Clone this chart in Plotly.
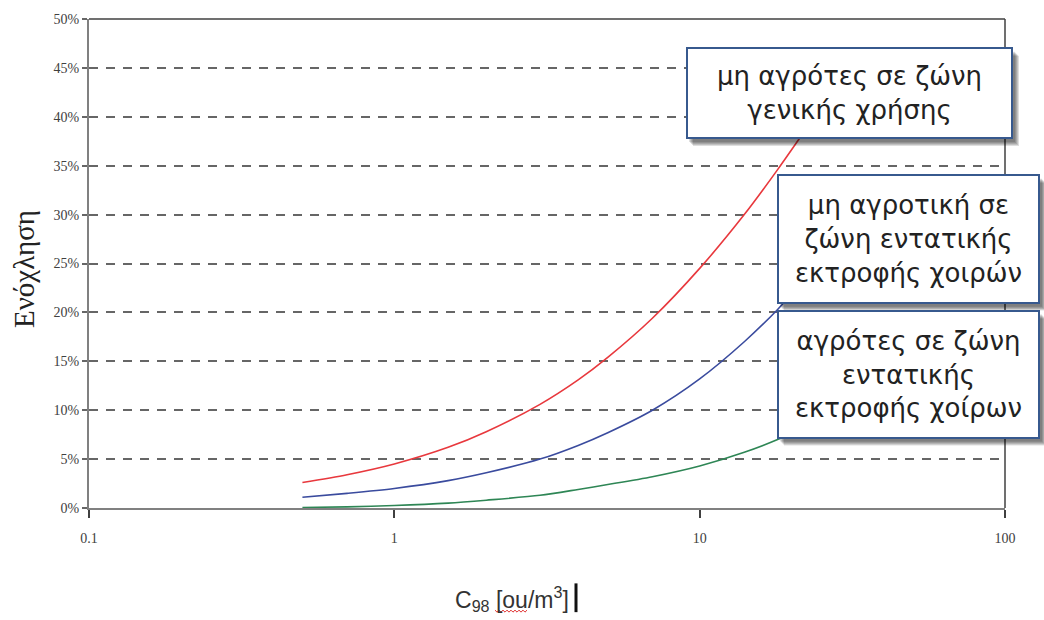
import plotly.graph_objects as go

# Odour concentration C98 [ou/m3] and annoyance share [%] for three receptor groups
conc = [0.5, 0.7, 1, 1.5, 2, 3, 4, 5, 7, 10, 14, 18, 25]
annoy_general = [2.6, 3.4, 4.5, 6.2, 7.8, 10.6, 13.1, 15.4, 19.4, 24.5, 30.0, 34.6, 41.0]
annoy_nonfarm_pig = [1.1, 1.5, 2.0, 2.8, 3.6, 5.0, 6.4, 7.7, 10.0, 13.2, 17.0, 20.3, 25.3]
annoy_farm_pig = [0.05, 0.12, 0.25, 0.5, 0.8, 1.3, 1.9, 2.4, 3.2, 4.3, 5.7, 7.0, 9.1]

series_names = [
    "μη αγρότες σε ζώνη<br>γενικής χρήσης",
    "μη αγροτική σε<br>ζώνη εντατικής<br>εκτροφής χοιρών",
    "αγρότες σε ζώνη<br>εντατικής<br>εκτροφής χοίρων",
]
series_values = [annoy_general, annoy_nonfarm_pig, annoy_farm_pig]
series_colors = ["#E8383D", "#3A4B9E", "#2E8655"]

x_tickvals = [0.1, 1, 10, 100]
x_ticktext = ["0.1", "1", "10", "100"]
y_tickvals = list(range(0, 55, 5))
y_ticktext = [f"{v}%" for v in y_tickvals]

W, H = 1044, 620
L, R, T, B = 89, 39, 15, 112
PW, PH = W - L - R, H - T - B


def px(x):
    return (x - L) / PW


def py(y):
    return (H - B - y) / PH


fig = go.Figure()
for name, vals, col in zip(series_names, series_values, series_colors):
    fig.add_trace(go.Scatter(
        x=conc, y=vals, mode="lines", name=name.replace("<br>", " "),
        line=dict(color=col, width=1.6, shape="spline", smoothing=0.8),
        showlegend=False, hoverinfo="skip",
    ))

shapes = []
# frame: top and right edges
shapes.append(dict(type="line", xref="paper", yref="paper", x0=0, x1=1, y0=1, y1=1,
                   line=dict(color="#404040", width=1.5), layer="above"))
shapes.append(dict(type="line", xref="paper", yref="paper", x0=1, x1=1, y0=0, y1=1,
                   line=dict(color="#404040", width=1.5), layer="above"))

# label boxes (pixel extents) with soft drop shadows
boxes = [
    (686, 44, 1013, 136),
    (777, 172, 1040, 302),
    (777, 309, 1040, 438),
]
for (x0, y0, x1, y1) in boxes:
    for i in range(5):
        shapes.append(dict(
            type="rect", xref="paper", yref="paper",
            x0=px(x0 + 3 + i), x1=px(x1 + 2 + i),
            y0=py(y0 + 4 + i), y1=py(y1 + 3 + i),
            fillcolor="rgba(0,0,0,0.13)", line=dict(width=0), layer="above",
        ))

# text cursor and spell-check squiggle next to the axis title
shapes.append(dict(type="line", xref="paper", yref="paper",
                   x0=px(576), x1=px(576), y0=py(584), y1=py(613),
                   line=dict(color="#111111", width=3)))
zig = "M " + " L ".join(
    f"{px(495 + 2 * k):.5f},{py(611 if k % 2 == 0 else 613):.5f}" for k in range(17)
)
shapes.append(dict(type="path", xref="paper", yref="paper", path=zig,
                   line=dict(color="#E03030", width=1)))

annotations = []
box_font = dict(family="DejaVu Sans, Verdana, sans-serif", size=26, color="#222222")
for text, (x0, y0, x1, y1) in zip(series_names, boxes):
    annotations.append(dict(
        text=text, xref="paper", yref="paper",
        x=px((x0 + x1) / 2), y=py((y0 + y1) / 2),
        xanchor="center", yanchor="middle", showarrow=False,
        width=x1 - x0 - 4, height=y1 - y0 - 4,
        bgcolor="white", bordercolor="#37598E", borderwidth=2, borderpad=0,
        font=box_font, align="center", valign="middle",
    ))

annotations.append(dict(
    text="Ενόχληση", xref="paper", yref="paper", x=px(24), y=py(267),
    xanchor="center", yanchor="middle", textangle=-90, showarrow=False,
    font=dict(family="Liberation Serif, Times New Roman, serif", size=29, color="#222222"),
))
annotations.append(dict(
    text="C<sub>98</sub> [ou/m<sup>3</sup>]", xref="paper", yref="paper",
    x=px(512), y=py(600), xanchor="center", yanchor="middle", showarrow=False,
    font=dict(family="Liberation Sans, Arial, sans-serif", size=23, color="#333333"),
))

tick_font = dict(family="Liberation Serif, Times New Roman, serif", size=14, color="#404040")

fig.update_layout(
    width=W, height=H,
    margin=dict(l=L, r=R, t=T, b=B, pad=0),
    paper_bgcolor="white", plot_bgcolor="white",
    shapes=shapes, annotations=annotations,
    xaxis=dict(
        type="log", range=[-1, 2], tickvals=x_tickvals, ticktext=x_ticktext,
        showgrid=False, zeroline=False,
        showline=True, linecolor="#808080", linewidth=2,
        ticks="outside", ticklen=8, tickcolor="#404040", tickwidth=1.5,
        ticklabelstandoff=8, tickfont=tick_font,
    ),
    yaxis=dict(
        range=[0, 50], tickvals=y_tickvals, ticktext=y_ticktext,
        showgrid=True, gridcolor="#666666", gridwidth=2, griddash="9px,8px",
        zeroline=False,
        showline=True, linecolor="#808080", linewidth=2,
        ticks="outside", ticklen=5, tickcolor="#666666", tickwidth=1.5,
        tickfont=tick_font,
    ),
)

fig.write_html("out.html")
